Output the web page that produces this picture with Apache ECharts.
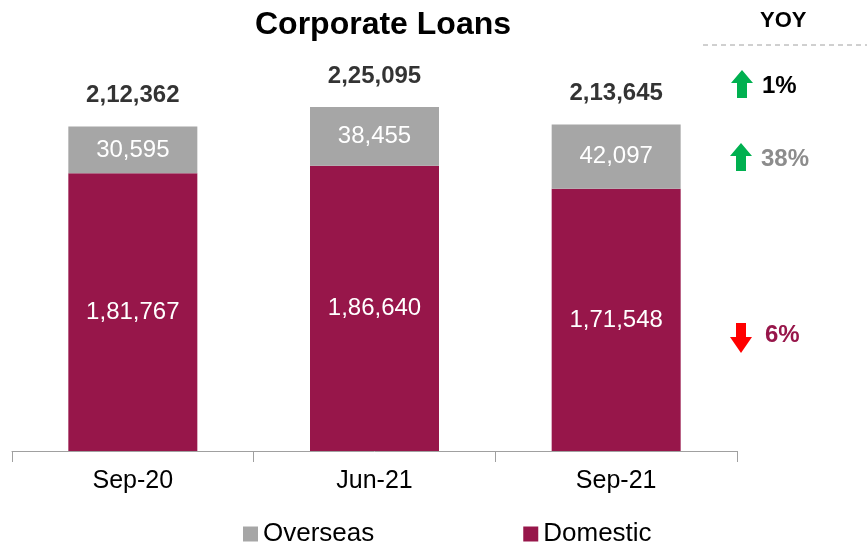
<!DOCTYPE html>
<html>
<head>
<meta charset="utf-8">
<script src="https://cdn.jsdelivr.net/npm/echarts@6/dist/echarts.min.js"></script>
<style>
html,body{margin:0;padding:0;background:#fff;}
#chart{width:867px;height:545px;}
</style>
</head>
<body>
<div id="chart"></div>
<script>
var categories = ['Sep-20', 'Jun-21', 'Sep-21'];
var domestic = [181767, 186640, 171548];
var overseas = [30595, 38455, 42097];
var totals = [212362, 225095, 213645];
var yoyLabels = ['1%', '38%', '6%'];

function fmtIndian(v) {
  var s = String(Math.round(v));
  if (s.length <= 3) return s;
  var last3 = s.slice(-3);
  var rest = s.slice(0, -3);
  rest = rest.replace(/\B(?=(\d{2})+(?!\d))/g, ',');
  return rest + ',' + last3;
}

var FONT = '"Liberation Sans", Arial, sans-serif';
var MAROON = '#97164A';
var GREY = '#A6A6A6';
var GREEN = '#00B050';
var RED = '#FF0000';

var chart = echarts.init(document.getElementById('chart'), null, {renderer: 'canvas'});

function upArrow(cx, top) {
  return {
    type: 'polygon',
    shape: {points: [[cx, top], [cx + 11, top + 13], [cx + 5, top + 13], [cx + 5, top + 28], [cx - 5, top + 28], [cx - 5, top + 13], [cx - 11, top + 13]]},
    style: {fill: GREEN}
  };
}
function downArrow(cx, top) {
  return {
    type: 'polygon',
    shape: {points: [[cx - 5, top], [cx + 5, top], [cx + 5, top + 14], [cx + 11, top + 14], [cx, top + 30], [cx - 11, top + 14], [cx - 5, top + 14]]},
    style: {fill: RED}
  };
}

var option = {
  animation: false,
  backgroundColor: '#fff',
  title: {
    text: 'Corporate Loans',
    left: 378, top: 4, textAlign: 'center',
    textStyle: {fontFamily: FONT, fontSize: 32, fontWeight: 'bold', color: '#000'}
  },
  grid: {left: 12, right: 130, top: 69, bottom: 94, containLabel: false},
  legend: {
    data: ['Overseas', 'Domestic'],
    top: 516, left: 238,
    itemWidth: 15, itemHeight: 15, itemGap: 149,
    icon: 'rect',
    textStyle: {fontFamily: FONT, fontSize: 26, color: '#000', padding: [0, 0, 0, 0]}
  },
  xAxis: {
    type: 'category',
    data: categories,
    axisLine: {lineStyle: {color: '#A0A0A0', width: 1}},
    axisTick: {show: true, length: 11, lineStyle: {color: '#A0A0A0'}},
    axisLabel: {fontFamily: FONT, fontSize: 25, color: '#000', margin: 18}
  },
  yAxis: {
    type: 'value', min: 0, max: 250000, show: false,
    splitLine: {show: false}
  },
  series: [
    {
      name: 'Domestic', type: 'bar', stack: 'a', barWidth: 129,
      data: domestic,
      itemStyle: {color: MAROON},
      label: {show: true, position: 'inside', fontFamily: FONT, fontSize: 24, color: '#fff', formatter: function(p){return fmtIndian(p.value);}}
    },
    {
      name: 'Overseas', type: 'bar', stack: 'a', barWidth: 129,
      data: overseas,
      itemStyle: {color: GREY},
      label: {show: true, position: 'inside', fontFamily: FONT, fontSize: 24, color: '#fff', formatter: function(p){return fmtIndian(p.value);}}
    },
    {
      name: 'Total', type: 'scatter', data: totals, symbolSize: 0, silent: true,
      label: {show: true, position: 'top', distance: 19, fontFamily: FONT, fontSize: 24, fontWeight: 'bold', color: '#000', formatter: function(p){return fmtIndian(p.value);}}
    }
  ],
  graphic: [
    {type: 'text', left: 760, top: 10, style: {text: 'YOY', font: 'bold 22px ' + FONT, fill: '#000'}},
    {type: 'line', shape: {x1: 703, y1: 45, x2: 867, y2: 45}, style: {stroke: '#A0A0A0', lineWidth: 1, lineDash: [5, 4]}},
    upArrow(742, 70),
    {type: 'text', left: 762, top: 74, style: {text: yoyLabels[0], font: 'bold 24px ' + FONT, fill: '#000'}},
    upArrow(741, 143),
    {type: 'text', left: 761, top: 147, style: {text: yoyLabels[1], font: 'bold 24px ' + FONT, fill: '#8C8C8C'}},
    downArrow(741, 323),
    {type: 'text', left: 765, top: 323, style: {text: yoyLabels[2], font: 'bold 24px ' + FONT, fill: MAROON}}
  ]
};
chart.setOption(option);
</script>
</body>
</html>
